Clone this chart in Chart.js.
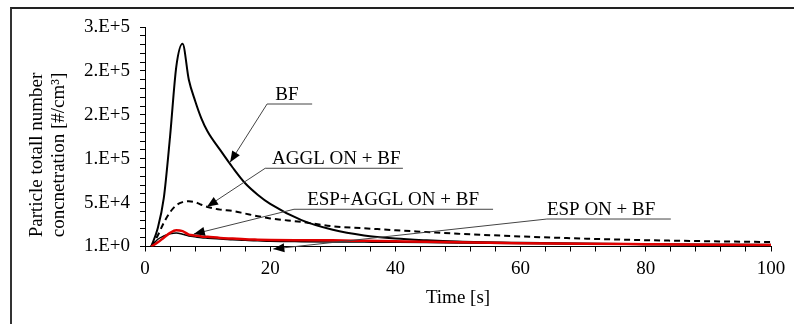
<!DOCTYPE html>
<html>
<head>
<meta charset="utf-8">
<script src="https://cdn.jsdelivr.net/npm/chart.js@4"></script>
<style>
  html, body { margin: 0; padding: 0; background: #fff; overflow: hidden; }
  #wrap { position: relative; width: 794px; height: 324px; overflow: hidden; }
  #frame { position: absolute; left: 10px; top: 7px; width: 820px; height: 340px;
           border-top: 2px solid #222; border-left: 2px solid #333; }
  #c { position: absolute; left: 0; top: 0; }
</style>
</head>
<body>
<div id="wrap">
  <div id="frame"></div>
  <canvas id="c" width="794" height="324"></canvas>
</div>
<script>
// Time [s]
const times = [1, 2, 3, 4, 5, 6, 7, 8, 9, 10, 12, 14, 16, 18, 20, 25, 30, 35, 40, 45, 50, 60, 70, 80, 90, 100];

// Particle total number concentration [#/cm3]
const bf       = [0, 20000, 55000, 125000, 205000, 231000, 190000, 166000, 146000, 131000, 110000, 90000, 72000, 59000, 48500, 30000, 19000, 12500, 9000, 7000, 5600, 4200, 3300, 2700, 2300, 2000];
const agglBf   = [0, 12000, 27000, 39000, 47000, 50500, 51500, 50500, 47500, 45000, 42000, 40500, 37500, 34500, 32000, 28000, 23000, 20800, 18500, 16500, 14500, 11500, 9000, 7200, 6000, 5100];
const espAgglBf = [0, 4500, 10000, 15500, 18500, 17500, 13500, 12500, 11500, 11000, 9800, 9000, 8200, 7800, 7500, 7200, 7000, 6500, 6000, 5500, 4800, 3800, 3100, 2600, 2100, 1700];
const espBf    = [0, 8000, 12000, 14500, 15500, 14000, 12000, 11000, 10000, 9500, 8500, 7800, 7000, 6500, 6000, 5500, 5200, 5000, 4800, 4500, 4000, 3300, 2800, 2400, 2000, 1700];

const yTickLabels = ['1.E+0', '5.E+4', '1.E+5', '2.E+5', '2.E+5', '3.E+5'];
const yTitle = ['Particle totall number', 'concnetration [#/cm\u00B3]'];

// callouts: text, underline from x0..x1 at y, arrow tip (all in data units)
const callouts = [
  { text: 'BF',               tx: 20.8, x0: 19.5, x1: 26.7, y: 162300, tipX: 13.6, tipY: 96000 },
  { text: 'AGGL ON + BF',     tx: 20.3, x0: 19.2, x1: 41.2, y: 89100,  tipX: 9.9,  tipY: 45300 },
  { text: 'ESP+AGGL ON + BF', tx: 25.9, x0: 23.8, x1: 55.6, y: 42400,  tipX: 7.8,  tipY: 14200 },
  { text: 'ESP ON + BF',      tx: 64.2, x0: 64.2, x1: 84.0, y: 31300,  tipX: 20.5, tipY: -2800 }
];

const FONT = 'Liberation Serif, "Times New Roman", serif';
const pts = arr => arr.map((v, i) => ({ x: times[i], y: v }));

// Draws the rotated two-line y title and the callout labels with arrows.
const extras = {
  id: 'extras',
  afterDraw(chart) {
    const ctx = chart.ctx;
    const xs = chart.scales.x, ys = chart.scales.y;
    ctx.save();
    ctx.fillStyle = '#000';
    ctx.font = '19px ' + FONT;
    ctx.textAlign = 'center';
    ctx.textBaseline = 'middle';
    yTitle.forEach((line, i) => {
      ctx.save();
      ctx.translate(37 + i * 22, 155);
      ctx.rotate(-Math.PI / 2);
      ctx.fillText(line, 0, 0);
      ctx.restore();
    });

    ctx.textAlign = 'left';
    ctx.textBaseline = 'alphabetic';
    callouts.forEach(c => {
      const ux0 = xs.getPixelForValue(c.x0);
      const ux1 = xs.getPixelForValue(c.x1);
      const uy = ys.getPixelForValue(c.y);
      const px = xs.getPixelForValue(c.tipX);
      const py = ys.getPixelForValue(c.tipY);
      ctx.strokeStyle = '#444';
      ctx.lineWidth = 1;
      ctx.beginPath();
      ctx.moveTo(ux1, uy);
      ctx.lineTo(ux0, uy);
      ctx.lineTo(px, py);
      ctx.stroke();
      // arrow head
      const ang = Math.atan2(py - uy, px - ux0);
      const len = 11, hw = 4.5;
      ctx.fillStyle = '#000';
      ctx.beginPath();
      ctx.moveTo(px, py);
      ctx.lineTo(px - len * Math.cos(ang) + hw * Math.sin(ang), py - len * Math.sin(ang) - hw * Math.cos(ang));
      ctx.lineTo(px - len * Math.cos(ang) - hw * Math.sin(ang), py - len * Math.sin(ang) + hw * Math.cos(ang));
      ctx.closePath();
      ctx.fill();
      ctx.fillText(c.text, xs.getPixelForValue(c.tx), uy - 4);
    });
    ctx.restore();
  }
};

const axisGrid = { drawOnChartArea: false, drawTicks: true, tickLength: 5, color: '#000', lineWidth: 1 };

new Chart(document.getElementById('c'), {
  type: 'line',
  data: {
    datasets: [
      { label: 'ESP+AGGL ON + BF', data: pts(espAgglBf), borderColor: '#e00000', borderWidth: 2.5 },
      { label: 'ESP ON + BF', data: pts(espBf), borderColor: '#000', borderWidth: 1.5 },
      { label: 'AGGL ON + BF', data: pts(agglBf), borderColor: '#000', borderWidth: 2, borderDash: [6, 4] },
      { label: 'BF', data: pts(bf), borderColor: '#000', borderWidth: 2 }
    ]
  },
  options: {
    responsive: false,
    animation: false,
    elements: {
      point: { radius: 0 },
      line: { cubicInterpolationMode: 'monotone', fill: false }
    },
    layout: { padding: { top: 27, right: 23, left: 0, bottom: 0 } },
    plugins: { legend: { display: false }, tooltip: { enabled: false } },
    scales: {
      x: {
        type: 'linear', min: 0, max: 100,
        afterFit: s => { s.height = 77.5; },
        grid: axisGrid,
        border: { display: true, color: '#000', width: 1 },
        ticks: {
          stepSize: 4, autoSkip: false, maxRotation: 0, color: '#000', padding: 6,
          font: { family: FONT, size: 19 },
          callback: v => (v % 20 === 0 ? String(v) : '')
        },
        title: { display: true, text: 'Time [s]', color: '#000', font: { family: FONT, size: 19 }, padding: { top: 0, bottom: 15 } }
      },
      y: {
        min: 0, max: 250000,
        afterFit: s => { s.width = 145; },
        grid: axisGrid,
        border: { display: true, color: '#000', width: 1 },
        ticks: {
          stepSize: 10000, autoSkip: false, color: '#000', padding: 10,
          font: { family: FONT, size: 19 },
          callback: v => (v % 50000 === 0 ? yTickLabels[v / 50000] : '')
        }
      }
    }
  },
  plugins: [extras]
});
</script>
</body>
</html>
